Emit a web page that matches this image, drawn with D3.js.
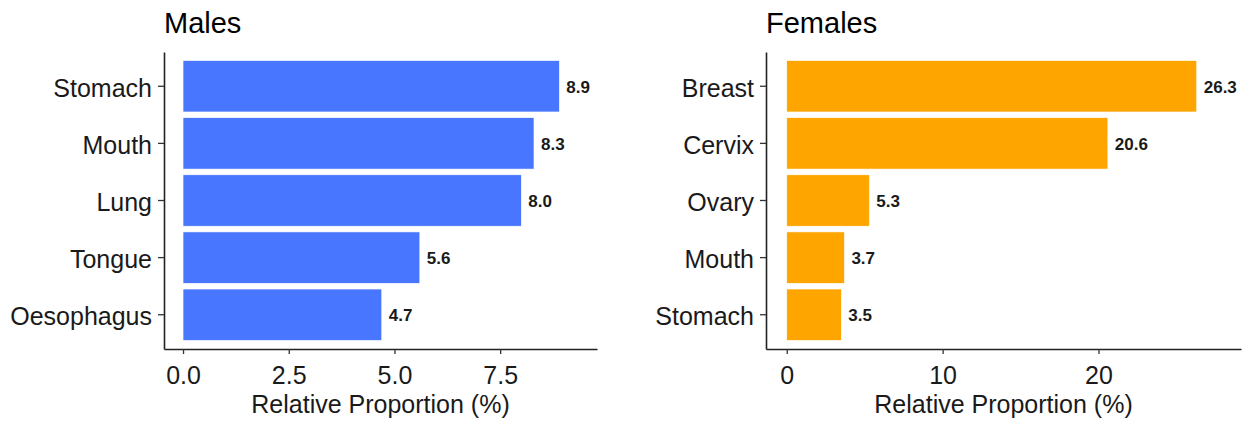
<!DOCTYPE html>
<html>
<head>
<meta charset="utf-8">
<script src="https://cdn.jsdelivr.net/npm/d3@7"></script>
<style>
  body { margin: 0; background: #fff; }
  svg { font-family: "Liberation Sans", Arial, sans-serif; }
</style>
</head>
<body>
<div id="chart"></div>
<script>
// dades
const maleSites = ["Stomach", "Mouth", "Lung", "Tongue", "Oesophagus"];
const maleValues = [8.9, 8.3, 8.0, 5.6, 4.7];
const maleTicks = [0, 2.5, 5, 7.5];

const femaleSites = ["Breast", "Cervix", "Ovary", "Mouth", "Stomach"];
const femaleValues = [26.3, 20.6, 5.3, 3.7, 3.5];
const femaleTicks = [0, 10, 20];

const W = 1249, H = 426;

const svg = d3.select("#chart")
    .append("svg")
        .attr("width", W)
        .attr("height", H);

// un panell per sexe
const panels = [
    { title: "Males", sites: maleSites, values: maleValues, ticks: maleTicks,
      fmt: d3.format(".1f"), color: "#4876FF",
      left: 164, right: 597, domain: [-0.45, 9.79] },
    { title: "Females", sites: femaleSites, values: femaleValues, ticks: femaleTicks,
      fmt: d3.format("d"), color: "#FFA500",
      left: 766, right: 1241, domain: [-1.33, 29.14] }
];

const panelTop = 52, panelBottom = 349;

panels.forEach(p => {
    const data = p.sites.map((s, i) => ({ site: s, value: p.values[i] }));

    const x = d3.scaleLinear()
        .domain(p.domain)
        .range([p.left, p.right]);

    const y = d3.scaleBand()
        .domain(p.sites)
        .range([panelTop, panelBottom])
        .paddingInner(0.1)
        .paddingOuter(0.15);

    const g = svg.append("g");

    // barres
    g.selectAll(".bar")
        .data(data)
        .enter()
        .append("rect")
            .attr("class", "bar")
            .attr("x", x(0))
            .attr("y", d => y(d.site))
            .attr("width", d => x(d.value) - x(0))
            .attr("height", y.bandwidth())
            .attr("fill", p.color)
            .attr("stroke", "#ffffff")
            .attr("stroke-width", 0.6);

    // etiquetes de valor
    g.selectAll(".val")
        .data(data)
        .enter()
        .append("text")
            .attr("class", "val")
            .attr("x", d => x(d.value) + 7)
            .attr("y", d => y(d.site) + y.bandwidth() / 2)
            .attr("dy", "0.38em")
            .style("font-size", "17px")
            .style("font-weight", "bold")
            .style("fill", "#1a1a1a")
            .text(d => d.value.toFixed(1));

    // eix X
    const ax = g.append("g")
        .attr("transform", `translate(0, ${panelBottom})`)
        .call(d3.axisBottom(x)
            .tickValues(p.ticks)
            .tickFormat(p.fmt)
            .tickSizeInner(5)
            .tickSizeOuter(0)
            .tickPadding(12));

    // eix Y
    const ay = g.append("g")
        .attr("transform", `translate(${p.left}, 0)`)
        .call(d3.axisLeft(y)
            .tickSizeInner(6)
            .tickSizeOuter(0)
            .tickPadding(6));

    [ax, ay].forEach(a => {
        a.attr("font-family", null).attr("font-size", null);
        a.select(".domain").attr("stroke", "#222").attr("stroke-width", 1.6);
        a.selectAll(".tick line").attr("stroke", "#333").attr("stroke-width", 1.3);
        a.selectAll("text")
            .style("font-size", "25px")
            .style("fill", "#1a1a1a");
    });
    ay.selectAll("text").attr("dy", "0.42em");

    // titol eix X
    g.append("text")
        .attr("x", (p.left + p.right) / 2)
        .attr("y", 413)
        .attr("text-anchor", "middle")
        .style("font-size", "25px")
        .style("fill", "#1a1a1a")
        .text("Relative Proportion (%)");

    // titol del panell
    g.append("text")
        .attr("x", p.left)
        .attr("y", 33)
        .style("font-size", "29px")
        .style("fill", "#000")
        .text(p.title);
});
</script>
</body>
</html>
